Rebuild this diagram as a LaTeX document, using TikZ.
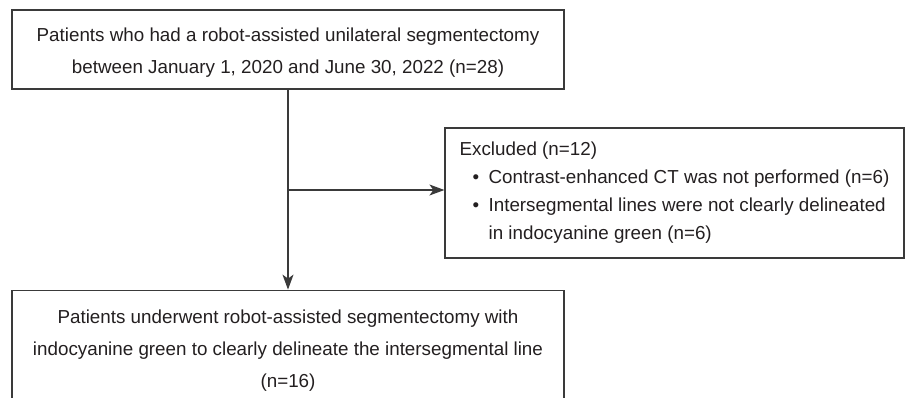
\documentclass[tikz,border=0pt]{standalone}
\usepackage{fontspec}
\setmainfont{Liberation Sans}
\usetikzlibrary{positioning,arrows.meta}
\definecolor{linea}{HTML}{3A3A3A}
\definecolor{texto}{HTML}{231F20}

\begin{document}
\begin{tikzpicture}[
      x=1pt, y=-1pt,
      font=\fontsize{18.8}{32}\selectfont,
      caja/.style={draw=linea, line width=1.2pt, align=center, text=texto,
                   minimum width=552pt, inner sep=0pt},
      flecha/.style={-{Stealth[length=15pt, width=11pt, inset=4pt]},
                     line width=1.2pt, draw=linea},
      node distance=200pt]
    \useasboundingbox (0,0) rectangle (906,397);
    \node[caja, minimum height=79pt] (f1) at (288,49.5)
      {\rule{0pt}{20pt}Patients who had a robot-assisted unilateral segmentectomy\\ between January 1, 2020 and June 30, 2022 (n=28)};
    % caja inferior recortada por el borde de la figura
    \node[caja, minimum height=121pt, below=of f1] (f2)
      {Patients underwent robot-assisted segmentectomy with\\ indocyanine green to clearly delineate the intersegmental line\\ (n=16)};
    \node[caja, align=left, minimum width=459pt, minimum height=130pt,
          font=\fontsize{18.8}{28}\selectfont] (ex) at (674.5,193)
      {Excluded (n=12)\\
       \hspace*{13pt}\makebox[16pt][l]{\textbullet}Contrast-enhanced CT was not performed (n=6)\\
       \hspace*{13pt}\makebox[16pt][l]{\textbullet}Intersegmental lines were not clearly delineated\\
       \hspace*{29pt}in indocyanine green (n=6)};
    \coordinate (rama) at (288,190);
    \draw[flecha] (f1) -- (f2);
    \draw[flecha] (rama) -- (rama -| ex.west);
\end{tikzpicture}
\end{document}
